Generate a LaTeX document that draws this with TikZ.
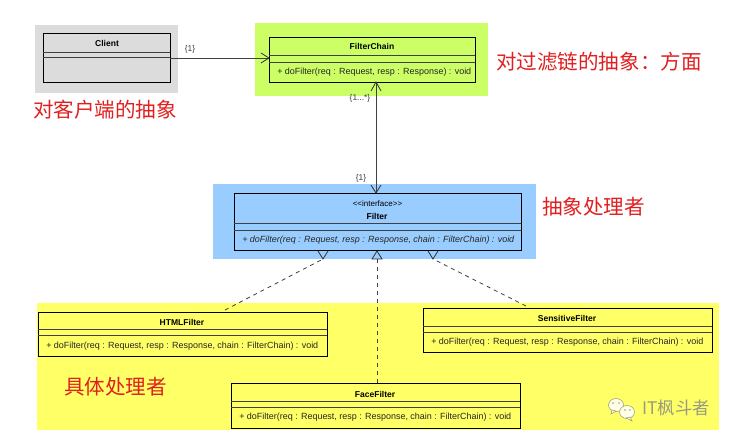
\documentclass[tikz,border=0pt]{standalone}
\usepackage{fontspec}
\setmainfont{Liberation Sans}
\newfontfamily\cjk{Noto Sans CJK SC}
\usetikzlibrary{arrows.meta}
\definecolor{clientbg}{HTML}{DCDCDC}
\definecolor{chainbg}{HTML}{CCFF66}
\definecolor{filterbg}{HTML}{99CCFF}
\definecolor{concretebg}{HTML}{FFFF66}
\definecolor{notered}{HTML}{E02020}
\definecolor{markgray}{HTML}{9A9A80}
\definecolor{markpale}{HTML}{FFFFE6}
\tikzset{
  x=0.75pt,y=-0.75pt,
  classbox/.style={draw=black,line width=1.1pt},
  divider/.style={draw=black!75,line width=0.6pt},
  classname/.style={font=\fontsize{6.4}{8}\selectfont\bfseries,inner sep=0pt},
  stereotype/.style={font=\fontsize{6}{8}\selectfont,inner sep=0pt},
  member/.style={font=\fontsize{6.72}{8}\selectfont,inner sep=0pt,text=black!85},
  memberit/.style={font=\fontsize{6.72}{8}\selectfont\itshape,inner sep=0pt,text=black!85},
  mult/.style={font=\fontsize{6.3}{7}\selectfont,inner sep=0pt,text=black!75},
  remark/.style={font=\cjk\fontsize{15.4}{17}\selectfont,text=notered,inner sep=0pt},
  assoc/.style={draw=black!75,line width=0.7pt},
  realize/.style={draw=black!75,line width=0.6pt,dash pattern=on 3pt off 3pt},
  openhead/.style={draw=black!80,line width=0.6pt},
}
\newcommand{\umlbox}[8]{%
  % name, left, top, right, bottom, first divider, second divider, fill
  \node[classbox,fill=#8,minimum width=#4*0.75pt-#2*0.75pt,minimum height=#5*0.75pt-#3*0.75pt,inner sep=0pt,anchor=north west] (#1) at (#2,#3) {};
  \draw[divider] (#2,#6) -- (#4,#6);
  \draw[divider] (#2,#7) -- (#4,#7);
}
\begin{document}
\begin{tikzpicture}
\useasboundingbox (0,0) rectangle (755,444);
\fill[white] (0,0) rectangle (755,444);
% coloured zones
\fill[clientbg] (35,25) rectangle (178,93);
\fill[chainbg] (255,23) rectangle (488,96);
\fill[filterbg] (213,184) rectangle (536,259);
\fill[concretebg] (37,303) rectangle (719,430);
% class boxes
\umlbox{client}{43}{33}{170}{82}{52}{57}{clientbg}
\umlbox{chain}{269}{37}{475}{82}{55}{62}{chainbg}
\umlbox{filter}{234}{193}{521}{250}{223}{230}{filterbg}
\umlbox{html}{38}{312}{327}{356}{329}{335}{concretebg}
\umlbox{face}{231}{383}{520}{428}{401}{407}{concretebg}
\umlbox{sens}{423}{308}{712}{352}{326}{332}{concretebg}
% class texts
\node[classname] at (107,43) {Client};
\node[classname] at (372,46) {FilterChain};
\node[member,anchor=west] at (277,72) {+ doFilter(req : Request, resp : Response) : void};
\node[stereotype] at (377.5,204) {<{}<interface>{}>};
\node[classname] at (377,216) {Filter};
\node[memberit,anchor=west] at (242,240) {+ doFilter(req : Request, resp : Response, chain : FilterChain) : void};
\node[classname] at (182,322) {HTMLFilter};
\node[member,anchor=west] at (46,346) {+ doFilter(req : Request, resp : Response, chain : FilterChain) : void};
\node[classname] at (567,318) {SensitiveFilter};
\node[member,anchor=west] at (431,342) {+ doFilter(req : Request, resp : Response, chain : FilterChain) : void};
\node[classname] at (375,394) {FaceFilter};
\node[member,anchor=west] at (239,417) {+ doFilter(req : Request, resp : Response, chain : FilterChain) : void};
% association from client to chain
\coordinate (clientout) at (170,58);
\coordinate (chainin) at (269,58);
\draw[assoc] (clientout) -- (chainin);
\draw[openhead] (261,53) -- (chainin) -- (261,63);
\node[mult] at (190,49) {\{1\}};
% two-way association between chain and filter
\coordinate (chainbottom) at (376,82);
\coordinate (filtertop) at (376,193);
\draw[assoc] (chainbottom) -- (filtertop);
\draw[openhead] (371,91) -- (chainbottom) -- (381,91);
\draw[openhead] (371,185) -- (filtertop) -- (381,185);
\node[mult] at (360,98) {\{1...*\}};
\node[mult] at (361,178) {\{1\}};
% realization lines
\coordinate (htmlup) at (225,310);
\coordinate (faceup) at (377,383);
\coordinate (sensup) at (526,306);
\coordinate (reala) at (323,259);
\coordinate (realb) at (377,259);
\coordinate (realc) at (433,259);
\draw[realize] (htmlup) -- (reala);
\draw[realize] (faceup) -- (realb);
\draw[realize] (sensup) -- (realc);
\draw[openhead] (318,251) -- (reala) -- (328,251);
\draw[openhead] (372,259) -- (377,251) -- (382,259) -- cycle;
\draw[openhead] (428,251) -- (realc) -- (438,251);
% remarks
\node[remark,anchor=west] at (33,110) {对客户端的抽象};
\node[remark,anchor=west] at (496,62) {对过滤链的抽象：方面};
\node[remark,anchor=west] at (542,207) {抽象处理者};
\node[remark,anchor=west] at (64,387) {具体处理者};
% chat mark: two overlapping speech bubbles and the account name
\fill[markpale,draw=markgray,line width=0.4pt] (616,405) ellipse (7.5 and 6.5);
\fill[markpale,draw=markgray,line width=0.4pt] (612,410) -- (611,414) -- (616,411) -- cycle;
\fill[markpale,draw=markgray,line width=0.4pt] (627,412) ellipse (7.5 and 6.5);
\fill[markpale,draw=markgray,line width=0.4pt] (630,417) -- (632,421) -- (626,418) -- cycle;
\fill[markgray] (613,403) circle (0.9) (619,403) circle (0.9) (625,410) circle (0.9) (630,410) circle (0.9);
\node[font=\cjk\fontsize{13}{15}\selectfont,text=markgray,inner sep=0pt,anchor=west] at (642,408) {IT枫斗者};
\end{tikzpicture}
\end{document}
